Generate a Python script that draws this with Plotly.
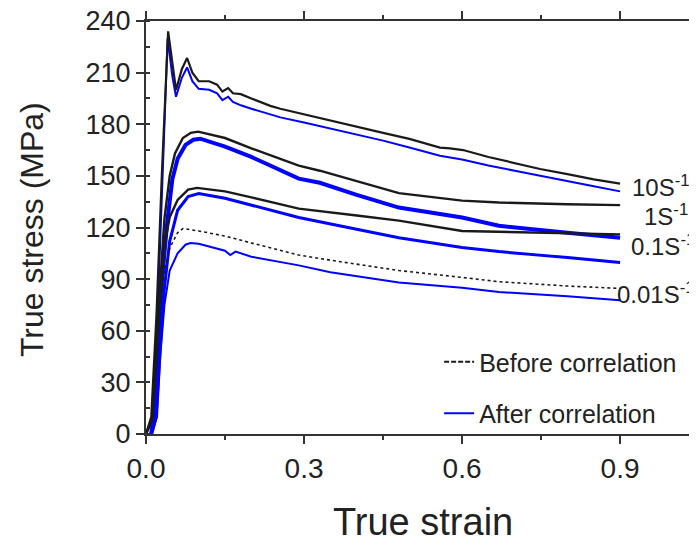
import plotly.graph_objects as go

# ---------------- data ----------------
rate_labels = ["10S<sup>-1</sup>", "1S<sup>-1</sup>", "0.1S<sup>-1</sup>", "0.01S<sup>-1</sup>"]
label_strain = [1.037, 1.033, 1.046, 1.046]
label_stress = [144, 127, 110, 82]

# 10 s^-1
strain_10_before = [0.0, 0.01, 0.02, 0.03, 0.042, 0.05, 0.057, 0.068, 0.078, 0.088, 0.1, 0.12, 0.135, 0.145,
                    0.156, 0.165, 0.18, 0.2, 0.236, 0.255, 0.3, 0.35, 0.406, 0.45, 0.5, 0.558, 0.577, 0.602,
                    0.65, 0.7, 0.748, 0.8, 0.85, 0.9]
stress_10_before = [0, 10, 70, 150, 234, 215, 200, 212, 218.5, 210, 205, 205, 203, 199,
                    201, 198, 197.5, 195, 190.7, 189, 185.7, 182, 178, 175, 171.5, 166.4, 166, 165,
                    161, 157.5, 154, 151, 148, 145.5]
strain_10_after = [0.008, 0.015, 0.022, 0.03, 0.041, 0.05, 0.057, 0.068, 0.078, 0.088, 0.1, 0.12, 0.135, 0.145,
                   0.156, 0.165, 0.18, 0.2, 0.236, 0.255, 0.3, 0.35, 0.406, 0.45, 0.5, 0.558, 0.6,
                   0.65, 0.7, 0.748, 0.8, 0.85, 0.9]
stress_10_after = [0, 15, 70, 140, 230, 208, 196, 207, 213, 205, 200.6, 200, 198, 194,
                   196, 193, 191, 189, 186, 184, 181, 177.5, 174, 170.5, 166.5, 161.7, 159.5,
                   156, 153, 150, 147, 144, 141]

# 1 s^-1
strain_1_before = [0.0, 0.012, 0.02, 0.027, 0.035, 0.045, 0.055, 0.07, 0.085, 0.099, 0.15, 0.2, 0.29, 0.33,
                   0.4, 0.48, 0.6, 0.67, 0.8, 0.9]
stress_1_before = [0, 10, 55, 90, 125, 150, 163, 172, 175, 175.7, 172, 166, 156, 153,
                   147, 140, 135.6, 134.5, 133.5, 133]
strain_1_after = [0.01, 0.018, 0.025, 0.03, 0.04, 0.05, 0.06, 0.075, 0.09, 0.103, 0.15, 0.2, 0.29, 0.33,
                  0.4, 0.48, 0.6, 0.67, 0.8, 0.9]
stress_1_after = [0, 10, 55, 88, 122, 148, 160, 168, 171, 171.6, 167, 161, 148.4, 146,
                  139, 131.6, 125.8, 121, 117, 114]

# 0.1 s^-1
strain_01_before = [0.0, 0.012, 0.02, 0.027, 0.035, 0.045, 0.06, 0.08, 0.097, 0.15, 0.2, 0.29, 0.4, 0.48,
                    0.6, 0.67, 0.8, 0.9]
stress_01_before = [0, 8, 45, 80, 110, 126, 136, 142, 143, 141, 137.5, 131, 127, 124,
                    118, 117.5, 116.5, 116]
strain_01_after = [0.01, 0.02, 0.027, 0.035, 0.045, 0.06, 0.08, 0.1, 0.15, 0.2, 0.29, 0.4, 0.48,
                   0.6, 0.67, 0.8, 0.9]
stress_01_after = [0, 10, 50, 85, 112, 130, 138, 139.7, 137, 133, 125.8, 119, 114,
                   108.4, 106, 102.5, 99.7]

# 0.01 s^-1
strain_001_before = [0.0, 0.012, 0.02, 0.027, 0.035, 0.045, 0.06, 0.07, 0.1, 0.15, 0.2, 0.29, 0.35, 0.48,
                     0.6, 0.67, 0.8, 0.9]
stress_001_before = [0, 8, 40, 75, 95, 108, 117, 119.4, 118, 115, 111, 104, 101, 95,
                     91, 88.5, 86, 84.6]
strain_001_after = [0.01, 0.02, 0.027, 0.035, 0.045, 0.06, 0.075, 0.084, 0.1, 0.13, 0.15, 0.16, 0.17, 0.2,
                    0.29, 0.35, 0.48, 0.6, 0.67, 0.8, 0.9]
stress_001_after = [0, 10, 45, 75, 95, 105, 110, 111, 110.5, 108, 106.5, 104, 106, 103,
                    98, 94, 88, 85, 82.5, 80, 77.7]

x_ticks = [0.0, 0.3, 0.6, 0.9]
x_ticktext = ["0.0", "0.3", "0.6", "0.9"]
y_ticks = [0, 30, 60, 90, 120, 150, 180, 210, 240]

FONT = "Liberation Sans, Arial, sans-serif"
BLACK = "#1a1a1a"
BLUE = "#0000ff"
TXT = "#222"

fig = go.Figure()

before = [(strain_10_before, stress_10_before, "solid", 2.2),
          (strain_1_before, stress_1_before, "solid", 2.4),
          (strain_01_before, stress_01_before, "solid", 2.4),
          (strain_001_before, stress_001_before, "dot", 1.6)]
after = [(strain_10_after, stress_10_after, 2.0),
         (strain_1_after, stress_1_after, 4.0),
         (strain_01_after, stress_01_after, 3.0),
         (strain_001_after, stress_001_after, 2.0)]

for (sx, sy, w) in after:
    fig.add_trace(go.Scatter(x=sx, y=sy, mode="lines", line=dict(color=BLUE, width=w),
                             showlegend=False, hoverinfo="skip"))
for (sx, sy, d, w) in before:
    fig.add_trace(go.Scatter(x=sx, y=sy, mode="lines", line=dict(color=BLACK, width=w, dash=d),
                             showlegend=False, hoverinfo="skip"))

# legend entries
fig.add_trace(go.Scatter(x=[None], y=[None], mode="lines", name="Before correlation",
                         line=dict(color=BLACK, width=2, dash="5px,2px"), legendgroup="a"))
fig.add_trace(go.Scatter(x=[None], y=[None], mode="lines", name="After correlation",
                         line=dict(color=BLUE, width=2), legendgroup="b"))

for txt, sx, sy in zip(rate_labels, label_strain, label_stress):
    fig.add_annotation(x=sx, y=sy, text=txt, showarrow=False, xanchor="right", yanchor="middle",
                       font=dict(family=FONT, size=24, color=TXT))

# axis titles
fig.add_annotation(xref="paper", yref="paper", x=0.503, y=-0.213, text="True strain",
                   showarrow=False, xanchor="center", yanchor="middle",
                   font=dict(family=FONT, size=38, color=TXT))
fig.add_annotation(xref="paper", yref="paper", x=-0.207, y=0.496, text="True stress (MPa)",
                   showarrow=False, xanchor="center", yanchor="middle", textangle=-90,
                   font=dict(family=FONT, size=32, color=TXT))

fig.update_layout(
    width=697, height=546,
    margin=dict(l=138, r=8, t=13, b=120, autoexpand=False),
    plot_bgcolor="white", paper_bgcolor="white",
    font=dict(family=FONT, color=TXT),
    legend=dict(x=0.532, y=0.23, xanchor="left", yanchor="top", bgcolor="rgba(0,0,0,0)",
                font=dict(family=FONT, size=25, color=TXT), tracegroupgap=16,
                itemwidth=30),
    showlegend=True,
)
fig.update_xaxes(range=[0, 1.046], tickvals=x_ticks, ticktext=x_ticktext,
                 showline=True, linecolor="#333", linewidth=2, mirror="ticks",
                 ticks="outside", ticklen=8, tickwidth=2, tickcolor="#333",
                 minor=dict(dtick=0.15, tick0=0, ticks="outside", ticklen=4, tickwidth=1.5, tickcolor="#333"),
                 showgrid=False, zeroline=False, automargin=False, ticklabeloverflow="allow",
                 tickfont=dict(family=FONT, size=28, color=TXT))
fig.update_yaxes(range=[0, 240], tickvals=y_ticks,
                 showline=True, linecolor="#333", linewidth=2, mirror=False,
                 ticks="outside", ticklen=8, tickwidth=2, tickcolor="#333",
                 minor=dict(dtick=15, tick0=0, ticks="inside", ticklen=4, tickwidth=1.5, tickcolor="#333"),
                 showgrid=False, zeroline=False, automargin=False, ticklabeloverflow="allow",
                 tickfont=dict(family=FONT, size=27, color=TXT))

fig.write_html("out.html")
